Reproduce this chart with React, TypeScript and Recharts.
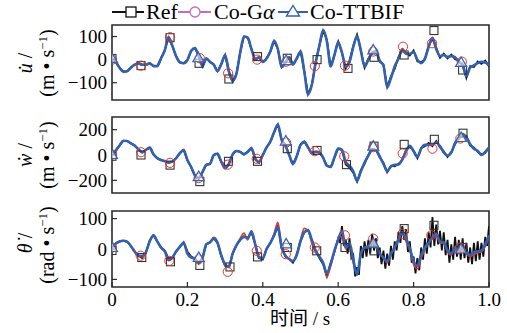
import React from 'react';
import { ComposedChart, Line, Scatter, XAxis, YAxis, ReferenceArea } from 'recharts';

const SERIF = '"Liberation Serif", "Times New Roman", "Noto Sans CJK SC", serif';

const X_TICKS = [0, 0.2, 0.4, 0.6, 0.8, 1.0];
const U_TICKS = [-100, 0, 100];
const W_TICKS = [-200, 0, 200];
const TH_TICKS = [-100, 0, 100];
const U_DOMAIN = [-175, 150];
const W_DOMAIN = [-300, 300];
const TH_DOMAIN = [-125, 125];

// ---- u-dot, sampled every 0.01 s ----
const U_REF = [
  5, -10, -35, -52, -50, -35, -22, -16, -22, -22,
  -16, -28, -28, 5, 40, 96, 60, 15, -12, -16,
  -2, 38, 50, 15, -30, 5, -10, -22, -50, -19,
  20, -55, -95, -62, 30, 100, 95, 45, 0, 10,
  -10, 5, 35, 80, 45, -33, -12, 10, -20, 5,
  35, -50, -150, -110, -15, 60, 125, 85, -30, 20,
  78, 30, -38, -5, 60, 108, 40, -35, 5, 25,
  38, -10, -20, -118, -72, -40, 12, 38, 30, 18,
  40, -8, -10, 0, 62, 90, 52, 8, 26, 5,
  22, 2, -4, -28, -80, -28, -32, -8, -18, -4,
  -30,
];
const U_GA = [
  5, -12, -35, -50, -50, -33, -22, -18, -24, -20,
  -16, -26, -28, 5, 42, 96, 58, 15, -12, -14,
  -2, 36, 48, 15, -26, 3, -10, -22, -48, -19,
  18, -48, -90, -60, 30, 98, 95, 45, 2, 10,
  -10, 5, 35, 80, 45, -33, -12, 10, -22, 5,
  33, -50, -148, -108, -15, 58, 125, 80, -28, 20,
  75, 30, -30, -12, 55, 100, 40, -28, 0, 30,
  35, -4, -25, -112, -80, -25, 5, 48, 30, 25,
  33, 0, -15, 5, 58, 95, 46, 15, 20, 12,
  15, 10, -8, -20, -68, -33, -25, -15, -10, -12,
  -25,
];
const U_TTBIF = [
  5, -10, -35, -52, -50, -35, -22, -16, -22, -22,
  -16, -28, -28, 5, 40, 98, 60, 15, -12, -16,
  -2, 38, 50, 15, -28, 5, -10, -22, -50, -19,
  20, -50, -92, -62, 30, 100, 95, 45, 0, 10,
  -10, 5, 35, 82, 45, -33, -12, 10, -20, 5,
  35, -50, -150, -110, -15, 60, 128, 80, -30, 20,
  75, 30, -30, -10, 55, 102, 40, -30, 0, 30,
  35, -4, -25, -120, -80, -30, 5, 45, 25, 25,
  33, 0, -15, 5, 55, 95, 46, 15, 20, 12,
  15, 10, -10, -20, -72, -33, -25, -15, -10, -12,
  -25,
];

// ---- w-dot, sampled every 0.01 s ----
const W_REF = [
  0, 35, 75, 112, 110, 92, 75, 45, 20, 40,
  58, 5, -25, -40, -48, -62, -52, -25, 15, 40,
  -40, -95, -165, -190, -135, -78, -70, 0, 10, -55,
  -105, -70, 5, 32, 25, 5, 25, 55, -30, -62,
  0, 60, 105, 180, 240, 120, 75, 0, -70, -10,
  80, 105, 60, 15, 25, 20, -21, -85, -95, -20,
  50, 40, -75, -100, -140, -210, -120, -70, 0, 40,
  40, -20, -60, -135, -85, -90, -70, -40, 40, 65,
  35, -25, 55, 70, 95, 70, 110, 60, 30, -15,
  25, 85, 140, 150, 150, 75, 60, 25, 5, 15,
  60,
];
const W_GA = [
  0, 35, 75, 112, 110, 92, 75, 45, 22, 40,
  58, 5, -25, -40, -48, -60, -52, -25, 15, 40,
  -40, -95, -160, -182, -135, -78, -70, 0, 10, -55,
  -100, -70, 5, 32, 25, 5, 25, 55, -30, -55,
  0, 60, 105, 180, 235, 125, 80, 0, -70, -10,
  80, 105, 60, 20, 28, 20, -21, -85, -95, -20,
  50, 40, -55, -85, -128, -200, -130, -60, -5, 48,
  40, -10, -70, -125, -90, -78, -75, -35, 30, 72,
  30, -15, 50, 80, 80, 80, 99, 70, 20, -5,
  19, 95, 130, 165, 140, 85, 50, 32, 0, 25,
  59,
];
const W_TTBIF = [
  0, 35, 75, 112, 110, 92, 75, 45, 20, 40,
  58, 5, -25, -40, -48, -58, -52, -25, 15, 40,
  -40, -95, -160, -180, -135, -78, -70, 0, 10, -55,
  -105, -70, 5, 32, 25, 5, 25, 55, -30, -55,
  0, 60, 105, 180, 240, 120, 75, 0, -70, -10,
  80, 105, 60, 15, 25, 20, -21, -85, -95, -20,
  50, 40, -55, -85, -128, -205, -130, -60, -5, 45,
  40, -10, -70, -128, -90, -78, -75, -35, 30, 72,
  30, -15, 50, 80, 80, 80, 99, 70, 20, -5,
  19, 95, 130, 165, 140, 85, 50, 32, 0, 25,
  59,
];

// ---- theta-dot ----
const TH_REF_EARLY = [ // 0.00 .. 0.59, every 0.01 s
  5, 18, 25, 27, 24, 10, -8, -22, -30, -12,
  28, 45, 25, 5, -5, -32, -30, -8, 7, 22,
  -8, -25, -32, -48, -28, 15, 22, 35, 20, -25,
  -55, -60, -15, 12, 30, 42, 36, 55, 15, -30,
  -35, 0, 20, 45, 75, 5, -25, -33, -45, -20,
  25, 55, 62, 30, -5, -30, -50, -90, -45, -10,
];
const TH_REF_LATE = [ // 0.600 .. 1.000, every 0.005 s
  35, 20, 75, 10, 30, -15, 35, -30, -20, -90,
  -60, -85, 10, -30, 25, -25, 30, -15, 50, -5,
  35, -30, 5, -50, -5, -65, -15, -55, 10, -35,
  25, -5, 55, 20, 75, 30, 65, -10, 25, -45,
  -25, -80, -30, -70, 5, -35, 35, -15, 55, 5,
  105, 10, 80, 15, 60, -5, 55, -20, 30, -45,
  15, -35, 40, -25, 30, -35, 35, -30, 20, -45,
  5, -50, 20, -40, 25, -35, 20, -25, 40, 10,
  75,
];
const TH_GA = [
  5, 18, 25, 27, 24, 10, -8, -22, -26, -12,
  25, 45, 25, 5, -8, -38, -30, -8, 7, 22,
  -12, -28, -32, -42, -30, 15, 22, 38, 22, -21,
  -55, -60, -15, 12, 35, 52, 30, 60, 15, -25,
  -30, 0, 20, 50, 88, 5, -22, -33, -40, -15,
  30, 68, 60, 20, -10, -25, -45, -92, -55, -10,
  35, 55, 0, 15, -45, -80, -20, 5, 10, 28,
  10, -12, -30, -45, -18, 5, 35, 55, 25, -5,
  -50, -65, -30, 0, 20, 35, 45, 20, 18, -10,
  -20, 0, -15, 0, -15, -25, -18, -12, -10, 10,
  40,
];
const TH_TTBIF = [
  5, 18, 25, 27, 24, 10, -8, -22, -22, -10,
  25, 45, 25, 5, -8, -35, -28, -8, 7, 20,
  -15, -28, -32, -44, -30, 15, 22, 35, 20, -21,
  -50, -58, -15, 12, 30, 40, 36, 57, 15, -28,
  -30, 0, 20, 45, 72, 5, -22, -33, -40, -20,
  25, 55, 62, 30, -5, -25, -45, -80, -50, -5,
  30, 60, 5, 20, -35, -85, -15, 5, 5, 25,
  12, -15, -28, -40, -15, 5, 30, 55, 35, 2,
  -40, -55, -20, 5, 20, 38, 50, 25, 22, -5,
  -15, 5, -5, 5, -10, -20, -10, -8, -5, 15,
  45,
];

// ---- markers [time, value] ----
const U_REF_MARKS = [[0, 5], [0.077, -26], [0.154, 95], [0.231, -16], [0.31, -84], [0.386, 13], [0.465, 6], [0.544, 0], [0.626, -38], [0.695, 10], [0.775, 20], [0.854, 126], [0.93, -45]];
const U_GA_MARKS = [[0, 0], [0.077, -26], [0.154, 97], [0.233, 6], [0.308, -59], [0.385, 0], [0.462, -9], [0.538, -28], [0.618, -26], [0.693, 35], [0.772, 56], [0.849, 71], [0.928, -9]];
const U_TTBIF_MARKS = [[0, 5], [0.229, 8], [0.462, -4], [0.693, 42], [0.926, -12]];
const W_REF_MARKS = [[0, -10], [0.077, 0], [0.154, -80], [0.233, -210], [0.309, -50], [0.386, -50], [0.465, 50], [0.544, 36], [0.622, -76], [0.695, 70], [0.775, 84], [0.855, 124], [0.931, 172]];
const W_GA_MARKS = [[0, 4], [0.077, 22], [0.154, -62], [0.23, -182], [0.307, -76], [0.384, -30], [0.462, 98], [0.538, 30], [0.616, -10], [0.693, 62], [0.771, 12], [0.85, 50], [0.924, 130]];
const W_TTBIF_MARKS = [[0, 4], [0.23, -170], [0.461, 110], [0.693, 70], [0.926, 138]];
const TH_REF_MARKS = [[0, -5], [0.079, -28], [0.155, -42], [0.233, -54], [0.313, -59], [0.386, -26], [0.465, 5], [0.543, -6], [0.618, 5], [0.695, -6], [0.775, 67], [0.854, 78], [0.93, 5]];
const TH_GA_MARKS = [[0, 5], [0.076, -22], [0.152, -39], [0.23, -34], [0.307, -75], [0.384, -6], [0.461, -17], [0.538, 5], [0.618, 45], [0.693, 34], [0.77, 50], [0.847, 45], [0.923, 5]];
const TH_TTBIF_MARKS = [[0, 5], [0.23, -28], [0.462, 17], [0.693, 19], [0.926, 0]];

const C_REF = '#111111';
const C_GA = '#e8352b';
const C_GA_LEGEND = '#c46cc4';
const C_TT = '#2f62b2';
const C_FRAME = '#2a2a2a';

const toSeries = (vals: number[], t0 = 0, dt = 0.01) =>
  vals.map((v, i) => ({ t: Math.round((t0 + i * dt) * 1000) / 1000, v }));
const toMarks = (pairs: number[][]) => pairs.map(([t, v]) => ({ t, v }));

const SquareMark = (p: any) => (
  <rect x={p.cx - 4} y={p.cy - 4} width={8} height={8} fill="none" stroke="#333" strokeWidth={1.1} />
);
const CircleMark = (p: any) => (
  <circle cx={p.cx} cy={p.cy} r={4.6} fill="none" stroke={C_GA} strokeWidth={1} />
);
const TriMark = (p: any) => (
  <polygon
    points={`${p.cx},${p.cy - 5.5} ${p.cx - 5.5},${p.cy + 4} ${p.cx + 5.5},${p.cy + 4}`}
    fill="#ffffff"
    fillOpacity={0.55}
    stroke={C_TT}
    strokeWidth={1.2}
  />
);

const fmtY = (v: number) => (v < 0 ? '\u2212' + Math.abs(v) : String(v));
const fmtX = (v: number) => (v === 0 ? '0' : v.toFixed(1));

type PanelProps = {
  top: number;
  bottom: number;
  domain: number[];
  yTicks: number[];
  refData: { t: number; v: number }[];
  gaData: { t: number; v: number }[];
  ttData: { t: number; v: number }[];
  refMarks: number[][];
  gaMarks: number[][];
  ttMarks: number[][];
  showX: boolean;
};

function Panel(p: PanelProps) {
  const tickStyle = { fill: '#000', fontSize: 19, fontFamily: SERIF };
  return (
    <div style={{ position: 'absolute', left: 0, top: 0 }}>
      <ComposedChart
        width={507}
        height={333}
        margin={{ top: p.top, right: 18, bottom: 333 - p.bottom - 1, left: 111 }}
      >
        <XAxis
          dataKey="t"
          type="number"
          domain={[0, 1]}
          ticks={X_TICKS}
          interval={0}
          height={1}
          tickSize={-5}
          tickMargin={p.showX ? 11 : 0}
          tick={p.showX ? tickStyle : false}
          tickFormatter={fmtX}
          axisLine={false}
          tickLine={{ stroke: C_FRAME, strokeWidth: 1.2 }}
          allowDataOverflow
        />
        <YAxis
          type="number"
          domain={p.domain}
          ticks={p.yTicks}
          interval={0}
          width={1}
          tickSize={-5}
          tickMargin={10}
          tick={tickStyle}
          tickFormatter={fmtY}
          axisLine={false}
          tickLine={{ stroke: C_FRAME, strokeWidth: 1.2 }}
          allowDataOverflow
        />
        <Line data={p.refData} dataKey="v" type="linear" stroke={C_REF} strokeWidth={1.8} dot={false} activeDot={false} isAnimationActive={false} />
        <Line data={p.gaData} dataKey="v" type="monotone" stroke={C_GA} strokeWidth={1.7} dot={false} activeDot={false} isAnimationActive={false} />
        <Line data={p.ttData} dataKey="v" type="monotone" stroke={C_TT} strokeWidth={2.6} dot={false} activeDot={false} isAnimationActive={false} />
        <Scatter data={toMarks(p.refMarks)} dataKey="v" shape={SquareMark} isAnimationActive={false} />
        <Scatter data={toMarks(p.gaMarks)} dataKey="v" shape={CircleMark} isAnimationActive={false} />
        <Scatter data={toMarks(p.ttMarks)} dataKey="v" shape={TriMark} isAnimationActive={false} />
        <ReferenceArea
          x1={0}
          x2={1}
          y1={p.domain[0]}
          y2={p.domain[1]}
          fill="none"
          fillOpacity={0}
          stroke={C_FRAME}
          strokeWidth={1.6}
          ifOverflow="visible"
        />
      </ComposedChart>
    </div>
  );
}

function Overlay() {
  const f = { fontFamily: SERIF, fill: '#000' };
  return (
    <svg width={507} height={333} style={{ position: 'absolute', left: 0, top: 0, pointerEvents: 'none' }}>
      {/* legend */}
      <line x1={112} y1={12} x2={144} y2={12} stroke={C_REF} strokeWidth={2} />
      <rect x={126} y={7} width={10} height={10} fill="#fff" stroke={C_REF} strokeWidth={1.3} />
      <text x={146} y={19} fontSize={22} {...f}>Ref</text>
      <line x1={178} y1={12} x2={211} y2={12} stroke={C_GA_LEGEND} strokeWidth={2} />
      <circle cx={195} cy={12} r={5} fill="#fff" stroke={C_GA_LEGEND} strokeWidth={1.3} />
      <text x={214} y={19} fontSize={22} {...f}>Co-G<tspan fontStyle="italic">α</tspan></text>
      <line x1={278} y1={12} x2={308} y2={12} stroke={C_TT} strokeWidth={2} />
      <polygon points="293,5.5 286.5,16 299.5,16" fill="#fff" stroke={C_TT} strokeWidth={1.4} />
      <text x={310} y={19} fontSize={22} {...f}>Co-TTBIF</text>

      {/* y labels */}
      <text transform="translate(32,63) rotate(-90)" textAnchor="middle" fontSize={20} {...f}>
        <tspan fontStyle="italic">{'u\u0307'}</tspan> /
      </text>
      <text transform="translate(54,63) rotate(-90)" textAnchor="middle" fontSize={20} {...f}>
        (m • s<tspan dy={-7} fontSize={13}>−1</tspan><tspan dy={7}>)</tspan>
      </text>
      <text transform="translate(32,155) rotate(-90)" textAnchor="middle" fontSize={20} {...f}>
        <tspan fontStyle="italic">{'\u1E87'}</tspan> /
      </text>
      <text transform="translate(54,155) rotate(-90)" textAnchor="middle" fontSize={20} {...f}>
        (m • s<tspan dy={-7} fontSize={13}>−1</tspan><tspan dy={7}>)</tspan>
      </text>
      <text transform="translate(32,243) rotate(-90)" textAnchor="middle" fontSize={20} {...f}>
        <tspan fontStyle="italic">{'\u03B8\u0307'}</tspan> /
      </text>
      <text transform="translate(54,245) rotate(-90)" textAnchor="middle" fontSize={20} {...f}>
        (rad • s<tspan dy={-7} fontSize={13}>−1</tspan><tspan dy={7}>)</tspan>
      </text>

      {/* x label */}
      <text x={300} y={325} textAnchor="middle" fontSize={19} {...f}>时间 / s</text>
    </svg>
  );
}

export default function App() {
  return (
    <div style={{ position: 'absolute', left: 0, top: 0, width: 507, height: 333, background: '#fff' }}>
      <Panel
        top={25}
        bottom={100}
        domain={U_DOMAIN}
        yTicks={U_TICKS}
        refData={toSeries(U_REF)}
        gaData={toSeries(U_GA)}
        ttData={toSeries(U_TTBIF)}
        refMarks={U_REF_MARKS}
        gaMarks={U_GA_MARKS}
        ttMarks={U_TTBIF_MARKS}
        showX={false}
      />
      <Panel
        top={117}
        bottom={193}
        domain={W_DOMAIN}
        yTicks={W_TICKS}
        refData={toSeries(W_REF)}
        gaData={toSeries(W_GA)}
        ttData={toSeries(W_TTBIF)}
        refMarks={W_REF_MARKS}
        gaMarks={W_GA_MARKS}
        ttMarks={W_TTBIF_MARKS}
        showX={false}
      />
      <Panel
        top={211}
        bottom={287}
        domain={TH_DOMAIN}
        yTicks={TH_TICKS}
        refData={[...toSeries(TH_REF_EARLY), ...toSeries(TH_REF_LATE, 0.6, 0.005)]}
        gaData={toSeries(TH_GA)}
        ttData={toSeries(TH_TTBIF)}
        refMarks={TH_REF_MARKS}
        gaMarks={TH_GA_MARKS}
        ttMarks={TH_TTBIF_MARKS}
        showX={true}
      />
      <Overlay />
    </div>
  );
}
